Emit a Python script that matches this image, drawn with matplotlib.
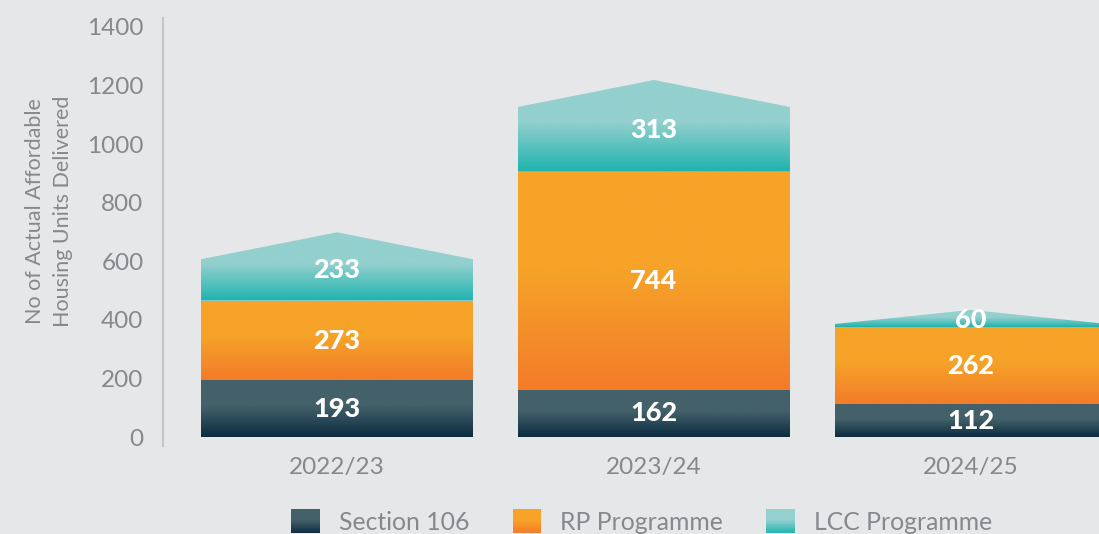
import numpy as np
import matplotlib
matplotlib.use('Agg')
import matplotlib.pyplot as plt
from matplotlib.patches import Polygon, Rectangle
from matplotlib.colors import to_rgb
from matplotlib.legend_handler import HandlerBase

# ---- data ----
years = ['2022/23', '2023/24', '2024/25']
section106 = [193, 162, 112]
rp_programme = [273, 744, 262]
lcc_programme = [233, 313, 60]
series_names = ['Section 106', 'RP Programme', 'LCC Programme']
yticks = [0, 200, 400, 600, 800, 1000, 1200, 1400]
ylabel = 'No of Actual Affordable\nHousing Units Delivered'

# ---- style ----
plt.rcParams['font.family'] = ['Lato', 'DejaVu Sans']
BG = '#e6e7e9'
GREY = '#86888b'
GRADS = [('#0b2b40', '#44616a'),   # Section 106 (bottom, top)
         ('#f37b2a', '#f6a328'),   # RP Programme
         ('#1fb3af', '#93d0ce')]   # LCC Programme
BAR_W = 0.858
ROOF = 92


def grad_img(bottom, top, n=256, flat=0.45):
    t = np.linspace(0, 1, n)
    f = np.clip(t / (1 - flat), 0, 1)
    b = np.array(to_rgb(bottom))
    tp = np.array(to_rgb(top))
    cols = b[None, :] * (1 - f[:, None]) + tp[None, :] * f[:, None]
    return cols[:, None, :]


fig = plt.figure(figsize=(10.99, 5.34), dpi=100)
fig.patch.set_facecolor(BG)
ax = fig.add_axes([0.1483, 0.1648, 1 - 0.1483, 0.8015])
ax.set_facecolor(BG)

series = [section106, rp_programme, lcc_programme]
x = np.arange(len(years))
for i, xc in enumerate(x):
    base = 0
    x0, x1 = xc - BAR_W / 2, xc + BAR_W / 2
    for s, vals in enumerate(series):
        v = vals[i]
        top = base + v
        if s == len(series) - 1:
            roof = min(ROOF, 0.8 * v)
            verts = [(x0, base), (x1, base), (x1, top - roof), (xc, top), (x0, top - roof)]
            ly = base + 0.45 * v
        else:
            verts = [(x0, base), (x1, base), (x1, top), (x0, top)]
            ly = base + v / 2
        poly = Polygon(verts, closed=True, facecolor='none', edgecolor='none')
        ax.add_patch(poly)
        im = ax.imshow(grad_img(*GRADS[s]), extent=[x0, x1, base, top],
                       origin='lower', aspect='auto', interpolation='bilinear', zorder=2)
        im.set_clip_path(poly)
        ax.text(xc, ly, f'{v}', ha='center', va='center', color='white',
                fontsize=19.5, fontweight='black', zorder=5)
        base = top

ax.set_xlim(-0.549, 2.404)
ax.set_ylim(-30.7, 1430.7)
ax.set_aspect('auto')
ax.set_xticks(x)
ax.set_xticklabels(years)
ax.set_yticks(yticks)
ax.tick_params(axis='both', length=0, labelsize=17.5, labelcolor=GREY)
ax.tick_params(axis='y', pad=14)
ax.tick_params(axis='x', pad=8)
for sp in ['top', 'right', 'bottom']:
    ax.spines[sp].set_visible(False)
ax.spines['left'].set_color('#c6c7c9')
ax.spines['left'].set_linewidth(1.6)

fig.text(0.0446, 0.605, ylabel, rotation=90, ha='center', va='center',
         color=GREY, fontsize=15.5, linespacing=1.55)


class GradHandler(HandlerBase):
    def __init__(self, bottom, top):
        super().__init__()
        self.bottom = np.array(to_rgb(bottom))
        self.top = np.array(to_rgb(top))

    def create_artists(self, legend, orig_handle, xdescent, ydescent,
                       width, height, fontsize, trans):
        n = 30
        arts = []
        for k in range(n):
            t = (k + 0.5) / n
            f = min(t / 0.55, 1)
            c = self.bottom * (1 - f) + self.top * f
            r = Rectangle((-xdescent, -ydescent + k * height / n), width, height / n * 1.05,
                          facecolor=c, edgecolor='none', transform=trans)
            arts.append(r)
        return arts


handles = [Rectangle((0, 0), 1, 1) for _ in series_names]
hmap = {h: GradHandler(*g) for h, g in zip(handles, GRADS)}
fig.legend(handles, series_names, handler_map=hmap, loc='center',
           bbox_to_anchor=(0.584, 0.024), ncol=3, frameon=False, fontsize=17.8,
           handlelength=1.15, handleheight=1.15, handletextpad=0.78,
           columnspacing=1.75, labelcolor=GREY)

fig.savefig('out.png', dpi=100, facecolor=BG)
